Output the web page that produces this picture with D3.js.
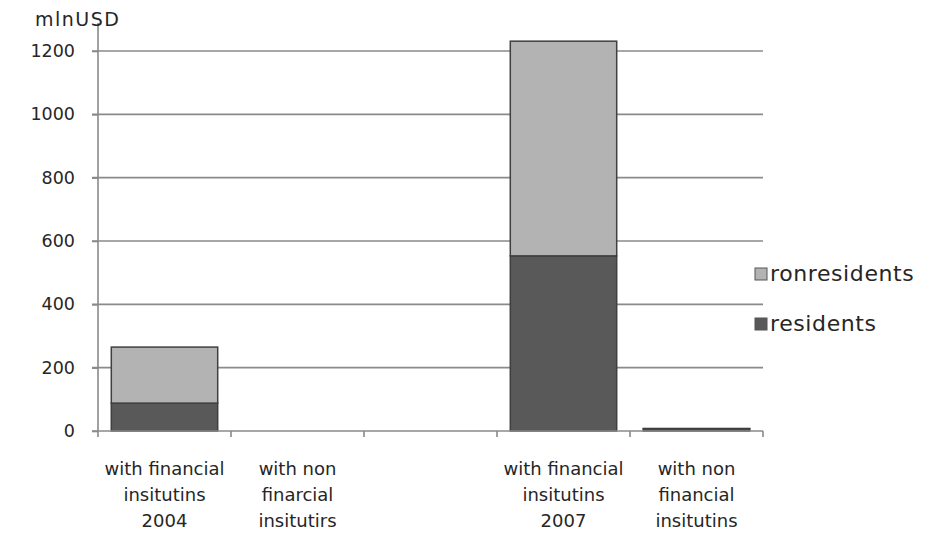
<!DOCTYPE html>
<html>
<head>
<meta charset="utf-8">
<script src="https://cdn.jsdelivr.net/npm/d3@7"></script>
<style>
  body { margin: 0; background: #fff; }
  svg { display: block; }
  text { font-family: "DejaVu Sans", "Noto Sans", sans-serif; fill: #262626; }
</style>
</head>
<body>
<svg id="chart" width="945" height="535"></svg>
<script>
// Category labels (multi-line), one slot left empty as a spacer
const categories = ["c2004fin", "c2004non", "gap", "c2007fin", "c2007non"];
const categoryLines = [
  ["with financial", "insitutins", "2004"],
  ["with non", "finarcial", "insitutirs"],
  [],
  ["with financial", "insitutins", "2007"],
  ["with non", "financial", "insitutins"]
];
const residents    = [88, 0, 0, 553, 7];
const nonResidents = [177, 0, 0, 678, 1];
const seriesNames  = ["residents", "ronresidents"];
const seriesColors = ["#595959", "#b3b3b3"];
const yTicks = [0, 200, 400, 600, 800, 1000, 1200];
const unitLabel = "mlnUSD";

const svg = d3.select("#chart");
const margin = { left: 98, right: 182, top: 51, bottom: 104 };
const W = 945, H = 535;

const x = d3.scaleBand().domain(categories)
  .range([margin.left, W - margin.right]).paddingInner(0.2).paddingOuter(0.1);
const y = d3.scaleLinear().domain([0, 1200]).range([H - margin.bottom, margin.top]);

// Horizontal gridlines with small outward ticks
const grid = svg.append("g");
grid.selectAll("line").data(yTicks.filter(d => d > 0)).join("line")
  .attr("x1", margin.left - 6).attr("x2", W - margin.right)
  .attr("y1", d => y(d)).attr("y2", d => y(d))
  .attr("stroke", "#8a8a8a").attr("stroke-width", 1.6);

// Stacked data
const rows = categories.map((c, i) => ({ cat: c, residents: residents[i], ronresidents: nonResidents[i] }));
const stacked = d3.stack().keys(seriesNames)(rows);

svg.append("g").selectAll("g").data(stacked).join("g")
  .attr("fill", (d, i) => seriesColors[i])
  .selectAll("rect").data(d => d.filter(p => p[1] - p[0] > 0)).join("rect")
  .attr("x", d => x(d.data.cat))
  .attr("width", x.bandwidth())
  .attr("y", d => y(d[1]))
  .attr("height", d => y(d[0]) - y(d[1]))
  .attr("stroke", "#3f3f3f").attr("stroke-width", 1.5);

// Y axis
const yAxis = svg.append("g").attr("transform", `translate(${margin.left},0)`)
  .call(d3.axisLeft(y).tickValues(yTicks).tickFormat(d3.format("d")).tickSize(6).tickPadding(17));
yAxis.select(".domain").attr("stroke", "#8a8a8a").attr("stroke-width", 1.6)
  .attr("d", `M0,${margin.top - 28}V${y(0)}`);
yAxis.selectAll(".tick line").attr("stroke", "#8a8a8a").attr("stroke-width", 1.6);
yAxis.selectAll(".tick text").style("font-size", "17.5px").attr("fill", "#262626")
  .style("font-family", "'DejaVu Sans', sans-serif");

// X axis: baseline with boundary ticks between categories
const xg = svg.append("g");
xg.append("line").attr("x1", margin.left - 6).attr("x2", W - margin.right)
  .attr("y1", y(0)).attr("y2", y(0)).attr("stroke", "#8a8a8a").attr("stroke-width", 1.6);
const bounds = d3.range(categories.length + 1).map(i => margin.left + i * (W - margin.right - margin.left) / categories.length);
xg.selectAll(".bt").data(bounds).join("line")
  .attr("x1", d => d).attr("x2", d => d)
  .attr("y1", y(0)).attr("y2", y(0) + 6)
  .attr("stroke", "#8a8a8a").attr("stroke-width", 1.6);

// Category labels
categories.forEach((c, i) => {
  const cx = x(c) + x.bandwidth() / 2;
  const t = svg.append("text").attr("text-anchor", "middle")
    .attr("x", cx).attr("y", y(0) + 44).style("font-size", "18px");
  categoryLines[i].forEach((ln, j) => {
    t.append("tspan").attr("x", cx).attr("dy", j === 0 ? 0 : 26).text(ln);
  });
});

// Unit label
svg.append("text").attr("x", 35).attr("y", 26).style("font-size", "19px")
  .style("letter-spacing", "1.5px").text(unitLabel);

// Legend (non residents on top)
const legend = svg.append("g").attr("transform", "translate(755,265)");
[1, 0].forEach((si, k) => {
  const g = legend.append("g").attr("transform", `translate(0,${k * 50})`);
  g.append("rect").attr("width", 12).attr("height", 12).attr("y", 3)
    .attr("fill", seriesColors[si]).attr("stroke", "#555").attr("stroke-width", 1);
  g.append("text").attr("x", 15).attr("y", 16).style("font-size", "22px")
    .style("letter-spacing", "0.6px").text(seriesNames[si]);
});
</script>
</body>
</html>
